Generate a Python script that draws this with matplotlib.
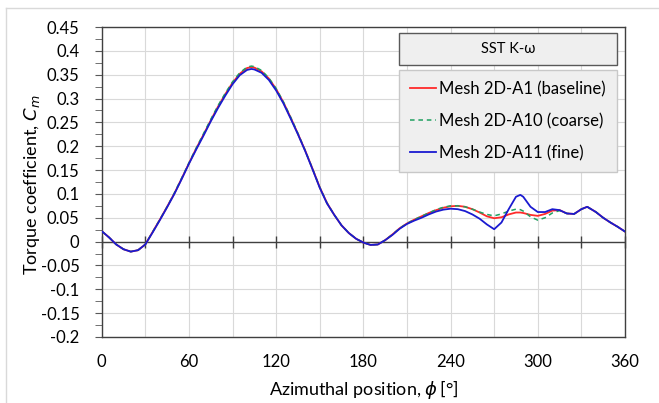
import matplotlib
matplotlib.use('Agg')
import matplotlib.pyplot as plt
from matplotlib.patches import Rectangle
from matplotlib.lines import Line2D
import numpy as np

plt.rcParams['font.family'] = ['Lato', 'DejaVu Sans']
plt.rcParams['mathtext.fontset'] = 'dejavusans'

# azimuthal position (deg)
phi = [0, 5, 10, 15, 20, 25, 30, 35, 40, 45, 50, 55, 60, 65, 70, 75, 80, 85,
       90, 95, 100, 103, 105, 110, 115, 120, 125, 130, 135, 140, 145, 150,
       155, 160, 165, 170, 175, 180, 185, 190, 195, 200, 205, 210, 215, 220,
       225, 230, 235, 240, 245, 250, 255, 260, 265, 270, 275, 280, 285, 288,
       290, 295, 300, 305, 310, 315, 320, 325, 330, 334, 340, 345, 350, 355,
       360]

# Mesh 2D-A11 (fine)
cm_fine = [0.022, 0.009, -0.006, -0.016, -0.021, -0.018, -0.006, 0.019,
           0.045, 0.072, 0.100, 0.131, 0.163, 0.193, 0.222, 0.252, 0.280,
           0.306, 0.330, 0.349, 0.360, 0.362, 0.361, 0.354, 0.339, 0.317,
           0.290, 0.258, 0.225, 0.190, 0.152, 0.113, 0.080, 0.056, 0.034,
           0.018, 0.006, -0.002, -0.007, -0.006, 0.003, 0.014, 0.027, 0.037,
           0.044, 0.050, 0.057, 0.063, 0.067, 0.069, 0.068, 0.064, 0.057,
           0.048, 0.036, 0.026, 0.040, 0.068, 0.094, 0.098, 0.094, 0.073,
           0.062, 0.062, 0.068, 0.066, 0.059, 0.058, 0.068, 0.073, 0.062,
           0.050, 0.040, 0.031, 0.021]

# Mesh 2D-A1 (baseline)
cm_base = [0.022, 0.009, -0.006, -0.016, -0.021, -0.018, -0.006, 0.020,
           0.046, 0.073, 0.101, 0.132, 0.164, 0.195, 0.224, 0.254, 0.283,
           0.309, 0.333, 0.352, 0.364, 0.366, 0.365, 0.357, 0.342, 0.320,
           0.292, 0.260, 0.226, 0.191, 0.153, 0.114, 0.081, 0.056, 0.034,
           0.018, 0.006, -0.002, -0.007, -0.006, 0.003, 0.015, 0.028, 0.038,
           0.046, 0.053, 0.060, 0.066, 0.071, 0.074, 0.075, 0.073, 0.068,
           0.061, 0.053, 0.049, 0.051, 0.057, 0.061, 0.061, 0.060, 0.056,
           0.054, 0.058, 0.065, 0.066, 0.059, 0.058, 0.068, 0.073, 0.062,
           0.050, 0.040, 0.031, 0.021]

# Mesh 2D-A10 (coarse)
cm_coarse = [0.022, 0.009, -0.006, -0.016, -0.021, -0.018, -0.006, 0.020,
             0.046, 0.073, 0.102, 0.133, 0.165, 0.196, 0.226, 0.256, 0.285,
             0.311, 0.335, 0.354, 0.366, 0.368, 0.367, 0.359, 0.343, 0.321,
             0.293, 0.261, 0.227, 0.191, 0.153, 0.114, 0.081, 0.056, 0.034,
             0.018, 0.006, -0.002, -0.007, -0.006, 0.003, 0.015, 0.028, 0.038,
             0.046, 0.053, 0.060, 0.067, 0.072, 0.075, 0.075, 0.073, 0.068,
             0.062, 0.057, 0.054, 0.058, 0.064, 0.068, 0.067, 0.064, 0.052,
             0.045, 0.050, 0.060, 0.065, 0.059, 0.058, 0.068, 0.073, 0.062,
             0.050, 0.040, 0.031, 0.021]

y_ticks = [0.45, 0.4, 0.35, 0.3, 0.25, 0.2, 0.15, 0.1, 0.05, 0, -0.05, -0.1,
           -0.15, -0.2]
y_labels = ['0.45', '0.4', '0.35', '0.3', '0.25', '0.2', '0.15', '0.1',
            '0.05', '0', '-0.05', '-0.1', '-0.15', '-0.2']

fig = plt.figure(figsize=(6.59, 4.03), dpi=100)
ax = fig.add_axes([0.1543, 0.1638, 0.7941, 0.7692])

ax.plot(phi, cm_base, color='#ff2a2a', lw=1.3, label='Mesh 2D-A1 (baseline)', zorder=3)
ax.plot(phi, cm_coarse, color='#1fa060', lw=1.1, ls=(0, (3, 2.5)),
        label='Mesh 2D-A10 (coarse)', zorder=4)
ax.plot(phi, cm_fine, color='#1a1ad0', lw=1.3, label='Mesh 2D-A11 (fine)', zorder=5)

ax.set_xlim(0, 360)
ax.set_ylim(-0.2, 0.45)

xt = np.arange(0, 361, 30)
ax.set_xticks(xt)
ax.set_xticklabels([str(v) if v % 60 == 0 else '' for v in xt])
ax.tick_params(axis='x', length=0, pad=12, labelsize=12)
ax.set_yticks(y_ticks)
ax.set_yticklabels(y_labels)
ax.set_yticks(np.arange(-0.2, 0.451, 0.025), minor=True)
ax.tick_params(axis='y', which='both', direction='out', length=5,
               color='#595959', labelsize=12, pad=11)
ax.grid(True, color='#d9d9d9', lw=0.8, zorder=0)
ax.set_axisbelow(True)
for s in ax.spines.values():
    s.set_color('#404040')
    s.set_linewidth(1.0)

# zero line with crossing ticks
ax.axhline(0, color='#404040', lw=1.0, zorder=2)
zax = ax.secondary_xaxis(0.2 / 0.65)
zax.set_xticks(xt)
zax.set_xticklabels([])
zax.tick_params(axis='x', which='major', direction='inout', length=9,
                width=1.0, color='#404040', bottom=True, top=False,
                labelbottom=False, labeltop=False)
for s in zax.spines.values():
    s.set_visible(False)
zax.set_zorder(2.5)

ax.set_xlabel(r'Azimuthal position, $\phi\,$[°]', fontsize=13, labelpad=6)
ax.set_ylabel(r'Torque coefficient, $C_m$', fontsize=13)
ax.yaxis.set_label_coords(-0.115, 0.49)

# legend title box
ax.add_patch(Rectangle((0.568, 0.877), 0.417, 0.104, transform=ax.transAxes,
                       facecolor='#efefef', edgecolor='#595959', lw=1.0, zorder=6))
ax.text(0.7765, 0.929, 'SST K-ω', transform=ax.transAxes, ha='center',
        va='center', fontsize=10.5, zorder=7)

leg = ax.legend(loc='upper left', bbox_to_anchor=(0.568, 0.861, 0.417, 0.0),
                mode='expand', fontsize=12, frameon=True, fancybox=False,
                handlelength=1.6, handletextpad=0.15, labelspacing=0.95,
                borderpad=0.65, borderaxespad=0)
leg.get_frame().set_facecolor('#efefef')
leg.get_frame().set_edgecolor('#c8c8c8')
leg.get_frame().set_alpha(1)
leg.set_zorder(6)

# outer chart border
fig.add_artist(Line2D([6 / 659, 6 / 659], [0, 1 - 8 / 403], color='#d9d9d9', lw=1))
fig.add_artist(Line2D([6 / 659, 1], [1 - 8 / 403, 1 - 8 / 403], color='#d9d9d9', lw=1))

fig.savefig('out.png', dpi=100)
